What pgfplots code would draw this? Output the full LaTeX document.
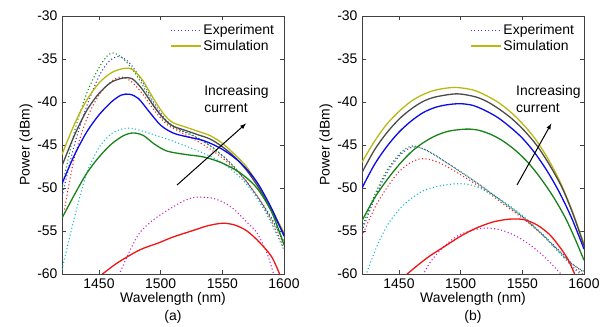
\documentclass[border=0pt]{standalone}
\usepackage{pgfplots}
\pgfplotsset{compat=1.18}
\usepackage{fontspec}
\setmainfont{Liberation Sans}
\definecolor{simy}{RGB}{185,185,20}
\definecolor{simk}{RGB}{75,75,75}
\definecolor{simb}{RGB}{10,10,235}
\definecolor{simg}{RGB}{25,130,25}
\definecolor{simr}{RGB}{240,20,20}
\definecolor{exb}{RGB}{70,60,220}
\definecolor{exg}{RGB}{20,150,20}
\definecolor{exr}{RGB}{235,40,40}
\definecolor{exc}{RGB}{20,190,200}
\definecolor{exm}{RGB}{200,40,200}
\pgfplotsset{
  panel/.style={
    scale only axis, width=222bp, height=258bp,
    xmin=1420, xmax=1600, ymin=-60, ymax=-30,
    clip mode=individual,
    xtick={1450,1500,1550,1600}, ytick={-60,-55,...,-30},
    tick align=inside, major tick length=4bp,
    axis line style={black!75}, tick style={black!75, line width=0.5bp},
    /pgf/number format/assume math mode=true,
    /pgf/number format/1000 sep={},
    tick label style={font=\fontsize{14}{16}\selectfont},
    label style={font=\fontsize{14}{16}\selectfont},
    xlabel={Wavelength (nm)}, ylabel={Power (dBm)},
    xlabel style={at={(axis description cs:0.5,-0.095)}, anchor=center},
    ylabel style={at={(axis description cs:-0.162,0.5)}, anchor=center},
    yticklabel style={xshift=-1bp},
    xticklabel style={yshift=-1bp},
    legend style={draw=none, fill=none, at={(axis description cs:0.965,0.975)}, anchor=north east,
      font=\fontsize{14}{16}\selectfont, row sep=0bp, inner sep=0pt},
    legend cell align=left,
    legend image code/.code={\draw[#1] (0bp,0bp) -- (30bp,0bp);},
  },
  ex/.style={line width=1.1bp, dash pattern=on 1.1bp off 2.4bp, smooth},
  sim/.style={line width=1.3bp, smooth},
}
\begin{document}
\begin{tikzpicture}
\useasboundingbox (-62bp,-53bp) rectangle (552bp,274bp);
% ---------------- panel (a)
\begin{axis}[panel]
\addplot[ex, exb] coordinates {(1420,-51) (1430,-45) (1440,-40.5) (1450,-37) (1458,-35.3) (1466,-34.7) (1475,-35.5) (1485,-37.6) (1495,-40.2) (1505,-42.2) (1515,-43.2) (1530,-44.2) (1545,-45.6) (1560,-47.6) (1575,-50.3) (1590,-53.5) (1600,-56.5)};
\addlegendentry{Experiment}
\addplot[ex, exg, forget plot] coordinates {(1420,-50) (1430,-43.5) (1440,-39) (1450,-36) (1457,-34.6) (1462,-34.3) (1470,-35) (1480,-36.8) (1490,-39.2) (1500,-41.6) (1510,-42.9) (1525,-43.8) (1540,-45.1) (1555,-46.9) (1570,-49.3) (1585,-52.5) (1600,-56.2)};
\addplot[ex, exr, forget plot] coordinates {(1422,-52.5) (1430,-46.5) (1440,-42) (1450,-39.2) (1460,-37.6) (1468,-37.1) (1476,-37.6) (1485,-39) (1495,-41) (1505,-42.6) (1520,-43.8) (1535,-45) (1550,-46.5) (1565,-48.5) (1580,-51.3) (1592,-54.5) (1600,-57)};
\addplot[ex, exc, forget plot] coordinates {(1420,-59.5) (1430,-53.5) (1440,-48.3) (1450,-45.3) (1460,-43.7) (1470,-43.1) (1478,-43.1) (1490,-43.6) (1505,-44.3) (1520,-45.1) (1540,-46.3) (1555,-47.6) (1570,-49.6) (1585,-52.8) (1600,-57.2)};
\addplot[ex, exm, forget plot] coordinates {(1465,-60.5) (1475,-57.3) (1483,-55.2) (1495,-53.6) (1510,-52.2) (1522,-51.3) (1532,-51.05) (1545,-51.3) (1558,-52.3) (1570,-54) (1578,-55.2) (1586,-57.5) (1592,-60.2)};
\addplot[sim, simy] coordinates {(1420,-46.1) (1430,-42.6) (1440,-39.8) (1450,-37.8) (1460,-36.6) (1470,-36.1) (1477,-36.2) (1485,-37.4) (1495,-39.8) (1503,-41.5) (1510,-42.4) (1520,-42.9) (1530,-43.4) (1540,-43.9) (1550,-44.8) (1560,-46.1) (1570,-47.6) (1580,-49.9) (1590,-52.5) (1600,-55.2)};
\addlegendentry{Simulation}
\addplot[sim, simk, forget plot] coordinates {(1420,-47.4) (1430,-43.9) (1440,-41) (1450,-39) (1460,-37.7) (1470,-37.2) (1477,-37.3) (1485,-38.5) (1495,-40.6) (1503,-42) (1510,-42.8) (1520,-43.3) (1530,-43.8) (1540,-44.3) (1550,-45.2) (1560,-46.4) (1570,-48) (1580,-50.1) (1590,-52.7) (1600,-55.4)};
\addplot[sim, simb, forget plot] coordinates {(1420,-49.5) (1430,-46.2) (1440,-43.5) (1450,-41.5) (1460,-40) (1468,-39.2) (1475,-39.1) (1482,-39.6) (1490,-41) (1500,-42.7) (1510,-43.6) (1520,-44) (1535,-44.5) (1550,-45.5) (1565,-47.1) (1578,-49.3) (1590,-52.4) (1600,-55.6)};
\addplot[sim, simg, forget plot] coordinates {(1420,-53.5) (1430,-50.8) (1440,-48.3) (1450,-46.4) (1460,-44.9) (1470,-43.9) (1478,-43.6) (1486,-43.9) (1495,-44.9) (1505,-45.7) (1520,-46.1) (1535,-46.4) (1550,-47.1) (1565,-48.3) (1578,-50) (1590,-52.8) (1600,-56.6)};
\addplot[sim, simr, forget plot] coordinates {(1452,-60.1) (1465,-58.7) (1483,-57.2) (1498,-56.4) (1510,-55.7) (1525,-55) (1538,-54.4) (1550,-54.1) (1560,-54.3) (1570,-55) (1580,-56.3) (1590,-58) (1597,-60.2)};
\draw[-latex, line width=1bp] (axis cs:1513.3,-49.65) -- (axis cs:1569.2,-42.5);
\node[anchor=north west, inner sep=0pt, align=left, font=\fontsize{14}{17}\selectfont] at (axis cs:1535.2,-38.1) {Increasing\\current};
\node[font=\fontsize{14}{16}\selectfont] at (axis description cs:0.5,-0.165) {(a)};
\end{axis}
% ---------------- panel (b)
\begin{axis}[panel, xshift=300bp]
\addplot[ex, exb] coordinates {(1420,-55) (1430,-51.3) (1440,-48.3) (1450,-46.3) (1457,-45.5) (1464,-45.2) (1475,-45.8) (1490,-47.2) (1505,-48.6) (1520,-50.1) (1535,-51.7) (1550,-53.3) (1565,-55.2) (1580,-57.3) (1592,-59) (1600,-59.8)};
\addlegendentry{Experiment}
\addplot[ex, exg, forget plot] coordinates {(1420,-54.6) (1430,-50.9) (1440,-48) (1450,-46.1) (1457,-45.3) (1462,-45.1) (1472,-45.6) (1487,-46.9) (1502,-48.3) (1518,-49.9) (1533,-51.5) (1548,-53.1) (1563,-55) (1578,-57.1) (1590,-58.8) (1600,-59.7)};
\addplot[ex, exr, forget plot] coordinates {(1420,-55.6) (1430,-52.4) (1440,-50) (1450,-48.1) (1460,-47) (1468,-46.6) (1478,-46.8) (1490,-47.6) (1505,-48.9) (1520,-50.3) (1535,-51.9) (1550,-53.5) (1565,-55.3) (1580,-57.5) (1592,-59.3) (1600,-60.1)};
\addplot[ex, exc, forget plot] coordinates {(1423,-60.2) (1432,-56.8) (1442,-54) (1455,-51.8) (1470,-50.3) (1485,-49.7) (1500,-49.5) (1512,-49.8) (1525,-50.7) (1540,-52.1) (1555,-53.8) (1570,-56) (1583,-58) (1595,-59.8) (1600,-60.3)};
\addplot[ex, exm, forget plot] coordinates {(1468,-60.5) (1475,-58.7) (1485,-57) (1497,-55.6) (1510,-54.9) (1521,-54.65) (1533,-54.9) (1545,-55.6) (1558,-56.8) (1570,-58.3) (1580,-59.8) (1583,-60.3)};
\addplot[sim, simy] coordinates {(1420,-47) (1430,-44.6) (1440,-42.6) (1450,-41.1) (1460,-39.9) (1470,-39.1) (1480,-38.6) (1495,-38.3) (1510,-38.6) (1520,-39.2) (1530,-40) (1540,-41.1) (1550,-42.5) (1560,-44.2) (1570,-46.4) (1580,-49.1) (1590,-52.5) (1600,-56.5)};
\addlegendentry{Simulation}
\addplot[sim, simk, forget plot] coordinates {(1420,-48.2) (1430,-45.6) (1440,-43.6) (1450,-42) (1460,-40.8) (1470,-39.9) (1480,-39.4) (1497,-39.05) (1512,-39.4) (1522,-40) (1532,-40.9) (1542,-42) (1552,-43.4) (1562,-45.1) (1572,-47.3) (1582,-49.9) (1591,-53) (1600,-56.7)};
\addplot[sim, simb, forget plot] coordinates {(1420,-50) (1430,-47.3) (1440,-45.2) (1450,-43.5) (1460,-42.2) (1470,-41.2) (1480,-40.6) (1490,-40.3) (1500,-40.2) (1510,-40.4) (1520,-41) (1530,-41.8) (1540,-42.9) (1550,-44.2) (1560,-45.9) (1570,-48) (1580,-50.5) (1590,-53.5) (1600,-57.1)};
\addplot[sim, simg, forget plot] coordinates {(1420,-53.8) (1430,-51.2) (1440,-49.1) (1450,-47.3) (1460,-45.8) (1470,-44.7) (1480,-43.9) (1490,-43.4) (1500,-43.2) (1507,-43.15) (1515,-43.3) (1525,-43.8) (1535,-44.6) (1545,-45.7) (1555,-47.1) (1565,-48.9) (1575,-51) (1585,-53.5) (1593,-56) (1600,-58.4)};
\addplot[sim, simr, forget plot] coordinates {(1455,-60.2) (1465,-59) (1475,-57.9) (1488,-56.7) (1500,-55.6) (1512,-54.7) (1525,-54) (1535,-53.7) (1543,-53.6) (1552,-53.7) (1562,-54.3) (1572,-55.4) (1580,-56.8) (1587,-58.3) (1593,-60.2)};
\draw[-latex, line width=1bp] (axis cs:1545.7,-49.65) -- (axis cs:1573.5,-42.5);
\node[anchor=north west, inner sep=0pt, align=left, font=\fontsize{14}{17}\selectfont] at (axis cs:1544.9,-38.1) {Increasing\\current};
\node[font=\fontsize{14}{16}\selectfont] at (axis description cs:0.5,-0.165) {(b)};
\end{axis}
\end{tikzpicture}
\end{document}
